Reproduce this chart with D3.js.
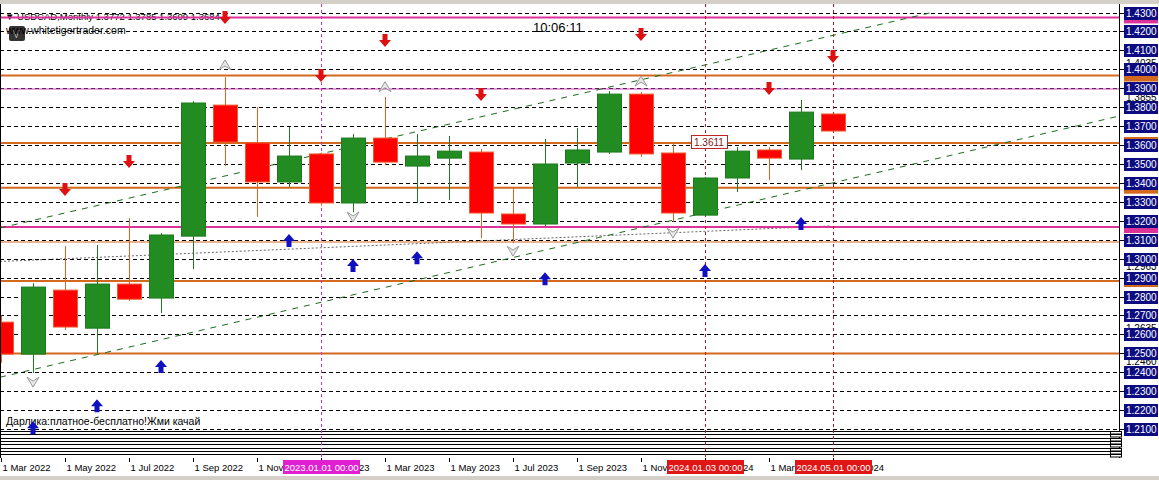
<!DOCTYPE html>
<html>
<head>
<meta charset="utf-8">
<script src="https://cdn.jsdelivr.net/npm/d3@7"></script>
<style>
  body { margin: 0; background: #fff; }
  svg { display: block; font-family: "Liberation Sans", Arial, sans-serif; }
</style>
</head>
<body>
<svg id="chart" width="1159" height="480"></svg>
<script>
// USDCAD monthly bars, Mar 2022 .. May 2024
const months = ['2022-03', '2022-04', '2022-05', '2022-06', '2022-07', '2022-08', '2022-09',
  '2022-10', '2022-11', '2022-12', '2023-01', '2023-02', '2023-03', '2023-04', '2023-05',
  '2023-06', '2023-07', '2023-08', '2023-09', '2023-10', '2023-11', '2023-12', '2024-01',
  '2024-02', '2024-03', '2024-04', '2024-05'];
const opens = [1.2665, 1.2496, 1.2834, 1.2633, 1.2866, 1.2792, 1.3119, 1.3811, 1.3611, 1.3405,
  1.3553, 1.3294, 1.3637, 1.3489, 1.3531, 1.3563, 1.3236, 1.3183, 1.3505, 1.3563, 1.3869,
  1.3558, 1.3230, 1.3426, 1.3574, 1.3526, 1.3764];
const highs = [1.2700, 1.2871, 1.3067, 1.3072, 1.3214, 1.3135, 1.3832, 1.3959, 1.3801, 1.3695,
  1.3560, 1.3658, 1.3854, 1.3658, 1.3648, 1.3579, 1.3373, 1.3632, 1.3690, 1.3885, 1.3880,
  1.3611, 1.3430, 1.3589, 1.3589, 1.3838, 1.3764];
const lows = [1.2450, 1.2396, 1.2623, 1.2501, 1.2776, 1.2713, 1.2945, 1.3489, 1.3220, 1.3378,
  1.3280, 1.3245, 1.3494, 1.3294, 1.3310, 1.3109, 1.3082, 1.3172, 1.3378, 1.3553, 1.3537,
  1.3195, 1.3225, 1.3352, 1.3415, 1.3468, 1.3674];
const closes = [1.2496, 1.2850, 1.2639, 1.2866, 1.2786, 1.3125, 1.3822, 1.3616, 1.3405, 1.3542,
  1.3294, 1.3637, 1.3510, 1.3542, 1.3568, 1.3241, 1.3183, 1.3500, 1.3574, 1.3869, 1.3553,
  1.3241, 1.3426, 1.3568, 1.3531, 1.3774, 1.3674];

// horizontal levels
const orangeLevels = [1.3967, 1.3611, 1.3375, 1.2882, 1.2499];
const thinOrangeLevels = [1.3088];
const magentaLevels = [1.4274, 1.3167];
const thinMagentaLevels = [1.3896];

// signal arrows: [bar index, price]
const sellArrows = [[7, 1.4271], [12, 1.4149], [10, 1.3965], [15, 1.3864], [20, 1.4181],
  [24, 1.3896], [26, 1.4065], [4, 1.3510], [2, 1.3362]];
const buyArrows = [[9, 1.3098], [11, 1.2966], [13, 1.3008], [17, 1.2897], [22, 1.2940],
  [25, 1.3188], [5, 1.2433], [3, 1.2226], [1, 1.2110]];
const fractalUp = [[7, 1.4023], [12, 1.3908], [20, 1.3938]];
const fractalDown = [[11, 1.3220], [16, 1.3040], [21, 1.3135], [1, 1.2348]];

// trend channel: [bar index, price] pairs
const channelLow = [[-0.03, 1.2374], [34.94, 1.3753]];
const channelHigh = [[-0.03, 1.3162], [29.09, 1.4300]];

// vertical markers
const markerBars = [10, 22, 26];
const markerLabels = ['2023.01.01 00:00', '2024.01.03 00:00', '2024.05.01 00:00'];

// axes
const priceTicks = d3.range(121, 144).map(v => v / 100);
const timeTickBars = d3.range(0, 27, 2);
const timeTickLabels = ['1 Mar 2022', '1 May 2022', '1 Jul 2022', '1 Sep 2022', '1 Nov 2022',
  '1 Jan 2023', '1 Mar 2023', '1 May 2023', '1 Jul 2023', '1 Sep 2023', '1 Nov 2023',
  '1 Jan 2024', '1 Mar 2024', '1 May 2024'];
// hidden price tags on the right scale
const sideTags = [1.4035, 1.3855, 1.3377, 1.2963, 1.2635, 1.2460];

const W = 1159, H = 480;
const plotRight = 1119, plotBottom = 458;

const svg = d3.select('#chart');
const x = d3.scaleLinear().domain([0, 26]).range([1, 833]);
const y = d3.scaleLinear().domain([1.21, 1.43]).range([429.1, 12.5]);
const fmt = d3.format('.4f');

const ORANGE = '#d2691e', MAGENTA = '#dd3399', NAVY = '#0c0c80';

// window edges
svg.append('rect').attr('x', 0).attr('y', 0).attr('width', W).attr('height', 4).attr('fill', '#d4d0c8');
svg.append('rect').attr('x', 0).attr('y', 476).attr('width', W).attr('height', 4).attr('fill', '#d4d0c8');

const plot = svg.append('g');

// dashed grid
plot.selectAll('line.grid').data(priceTicks).join('line')
  .attr('x1', 0).attr('x2', plotRight)
  .attr('y1', d => Math.round(y(d)) + 0.5).attr('y2', d => Math.round(y(d)) + 0.5)
  .attr('stroke', '#000').attr('stroke-dasharray', '4,3');

// stack of lines at the bottom
const stackRows = d3.range(431, 456, 3.3);
plot.selectAll('line.stack').data(stackRows).join('line')
  .attr('x1', 0).attr('x2', plotRight)
  .attr('y1', d => Math.round(d) + 0.5).attr('y2', d => Math.round(d) + 0.5)
  .attr('stroke', '#000').attr('stroke-width', 1)
  .attr('shape-rendering', 'crispEdges');

// title + texts
plot.append('text').attr('x', 5).attr('y', 20).attr('font-size', 9.5).attr('fill', '#000')
  .text('\u25BC USDCAD,Monthly 1.3772 1.3785 1.3609 1.3684');
plot.append('rect').attr('x', 9).attr('y', 26).attr('width', 16).attr('height', 15)
  .attr('rx', 2).attr('fill', '#333');
plot.append('text').attr('x', 13).attr('y', 38).attr('font-size', 10).attr('fill', '#aaa').text('V');
plot.append('text').attr('x', 6).attr('y', 34).attr('font-size', 10.5).attr('fill', '#000')
  .text('www.whitetigertrader.com');
plot.append('text').attr('x', 533).attr('y', 32).attr('font-size', 13).attr('fill', '#000')
  .text('10:06:11');
plot.append('text').attr('x', 6).attr('y', 425).attr('font-size', 10.5).attr('fill', '#000')
  .text('Дарлика:платное-бесплатно!Жми качай');

// faint dotted line
plot.append('line').attr('x1', 0).attr('y1', 261.5).attr('x2', 830).attr('y2', 226)
  .attr('stroke', '#000').attr('stroke-dasharray', '2,2').attr('stroke-opacity', 0.6);

// horizontal levels
function levels(data, color, width) {
  plot.selectAll(null).data(data).join('line')
    .attr('x1', 0).attr('x2', plotRight)
    .attr('y1', d => y(d)).attr('y2', d => y(d))
    .attr('stroke', color).attr('stroke-width', width);
}
levels(orangeLevels, ORANGE, 2);
levels(thinOrangeLevels, ORANGE, 1);
levels(magentaLevels, MAGENTA, 2);
levels(thinMagentaLevels, '#cc44bb', 1);

// vertical markers
plot.selectAll('line.vm').data(markerBars).join('line')
  .attr('x1', d => Math.round(x(d)) + 0.5).attr('x2', d => Math.round(x(d)) + 0.5)
  .attr('y1', 4).attr('y2', plotBottom + 2)
  .attr('stroke', (d, i) => i === 0 ? '#cc33cc' : '#cc1111')
  .attr('stroke-dasharray', '3,3');

// trend channel
[channelLow, channelHigh].forEach(pts => {
  plot.append('line')
    .attr('x1', x(pts[0][0])).attr('y1', y(pts[0][1]))
    .attr('x2', x(pts[1][0])).attr('y2', y(pts[1][1]))
    .attr('stroke', '#1b6b1b').attr('stroke-dasharray', '6,6');
});

// candles
const bars = months.map((m, i) => ({ i, o: opens[i], h: highs[i], l: lows[i], c: closes[i] }));
const candle = plot.selectAll('g.candle').data(bars).join('g');
candle.append('line')
  .attr('x1', d => Math.round(x(d.i)) + 0.5).attr('x2', d => Math.round(x(d.i)) + 0.5)
  .attr('y1', d => y(d.h)).attr('y2', d => y(d.l))
  .attr('stroke', d => d.c >= d.o ? '#1f7a1f' : '#e0602a');
candle.append('rect')
  .attr('x', d => Math.round(x(d.i)) - 12 + 0.5)
  .attr('width', 24)
  .attr('y', d => y(Math.max(d.o, d.c)))
  .attr('height', d => Math.max(1, y(Math.min(d.o, d.c)) - y(Math.max(d.o, d.c))))
  .attr('fill', d => d.c >= d.o ? '#228b22' : '#ff0000')
  .attr('stroke', d => d.c >= d.o ? '#1c7a1c' : '#f05a30');

// 1.3611 price tag on the chart
plot.append('rect').attr('x', 691.5).attr('y', y(1.3611) - 7.5).attr('width', 36).attr('height', 13)
  .attr('fill', '#fff').attr('stroke', '#c02020');
plot.append('text').attr('x', 694).attr('y', y(1.3611) + 3.5).attr('font-size', 10).attr('fill', '#802020')
  .text(fmt(1.3611));

// arrows
const downArrow = 'M-2.5,-7 L2.5,-7 L2.5,-1 L6,-1 L0,6 L-6,-1 L-2.5,-1 Z';
const upArrow = 'M-2.5,7 L2.5,7 L2.5,1 L6,1 L0,-6 L-6,1 L-2.5,1 Z';
plot.selectAll('path.sell').data(sellArrows).join('path')
  .attr('d', downArrow)
  .attr('transform', d => `translate(${x(d[0])},${y(d[1])})`)
  .attr('fill', '#dd1111');
plot.selectAll('path.buy').data(buyArrows).join('path')
  .attr('d', upArrow)
  .attr('transform', d => `translate(${x(d[0])},${y(d[1])})`)
  .attr('fill', '#1010c0');
plot.selectAll('path.fu').data(fractalUp).join('path')
  .attr('d', 'M-6,5 L0,-5 L6,5 L0,1 Z')
  .attr('transform', d => `translate(${x(d[0])},${y(d[1])})`)
  .attr('fill', '#e8e8e8').attr('stroke', '#999');
plot.selectAll('path.fd').data(fractalDown).join('path')
  .attr('d', 'M-6,-5 L0,5 L6,-5 L0,-1 Z')
  .attr('transform', d => `translate(${x(d[0])},${y(d[1])})`)
  .attr('fill', '#e8e8e8').attr('stroke', '#999');

// left border
plot.append('line').attr('x1', 0.5).attr('x2', 0.5).attr('y1', 4).attr('y2', plotBottom)
  .attr('stroke', '#000');

// price scale
const scale = svg.append('g');
scale.append('rect').attr('x', plotRight).attr('y', 4).attr('width', W - plotRight).attr('height', 472)
  .attr('fill', '#fff');
scale.append('line').attr('x1', plotRight + 0.5).attr('x2', plotRight + 0.5)
  .attr('y1', 4).attr('y2', plotBottom).attr('stroke', '#000');

scale.selectAll('text.tag').data(sideTags).join('text')
  .attr('x', 1126).attr('y', d => y(d) + 4).attr('font-size', 10).attr('fill', '#000')
  .text(d => fmt(d));

function levelTag(data, color) {
  scale.selectAll(null).data(data).join('rect')
    .attr('x', 1124).attr('y', d => y(d) - 6).attr('width', 34).attr('height', 12)
    .attr('fill', color);
}
levelTag(orangeLevels, ORANGE);
levelTag(magentaLevels, MAGENTA);

const pt = scale.selectAll('g.pt').data(priceTicks).join('g')
  .attr('transform', d => `translate(0,${Math.round(y(d))})`);
pt.append('line').attr('x1', plotRight).attr('x2', 1124).attr('y1', 0.5).attr('y2', 0.5).attr('stroke', '#000');
pt.append('rect').attr('x', 1124).attr('y', -6).attr('width', 34).attr('height', 13).attr('fill', NAVY);
pt.append('text').attr('x', 1126).attr('y', 4).attr('font-size', 10).attr('fill', '#fff')
  .text(d => fmt(d));

// small boxes under the scale
scale.selectAll('rect.sb').data(stackRows).join('rect')
  .attr('x', 1110.5).attr('y', d => Math.round(d) + 0.5).attr('width', 11).attr('height', 2.5)
  .attr('fill', '#fff').attr('stroke', '#000');

// time axis
const ta = svg.append('g');
const tt = ta.selectAll('g.tt').data(timeTickBars).join('g')
  .attr('transform', d => `translate(${Math.round(x(d)) + 0.5},0)`);
tt.append('line').attr('y1', plotBottom).attr('y2', plotBottom + 4).attr('stroke', '#000');
tt.append('text').attr('x', 1).attr('y', 471).attr('font-size', 9.5).attr('fill', '#000')
  .text((d, i) => timeTickLabels[i]);

const mk = ta.selectAll('g.mk').data(markerBars).join('g')
  .attr('transform', d => `translate(${Math.round(x(d))},0)`);
mk.append('rect').attr('x', -38).attr('y', 460).attr('width', 77).attr('height', 14)
  .attr('fill', (d, i) => i === 0 ? '#e020d0' : '#e01515');
mk.append('text').attr('x', 0.5).attr('y', 471).attr('text-anchor', 'middle')
  .attr('font-size', 9.5).attr('fill', '#fff')
  .text((d, i) => markerLabels[i]);
</script>
</body>
</html>
